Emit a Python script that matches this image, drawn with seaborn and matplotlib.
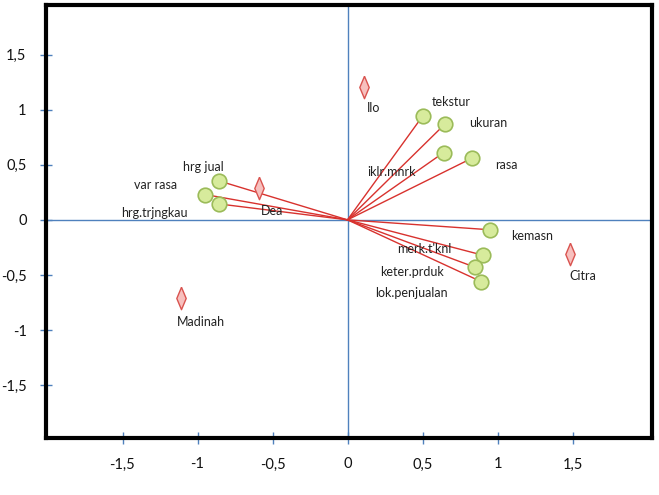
import numpy as np
import pandas as pd
import matplotlib
matplotlib.use('Agg')
import matplotlib.pyplot as plt
import seaborn as sns
from matplotlib.ticker import FuncFormatter

# attribute vectors (green circles)
attr_names = ['hrg jual', 'var rasa', 'hrg.trjngkau', 'tekstur', 'ukuran', 'iklr.mnrk',
              'rasa', 'kemasn', "merk.t'knl", 'keter.prduk', 'lok.penjualan']
attr_x = [-0.86, -0.95, -0.86, 0.50, 0.65, 0.64, 0.83, 0.95, 0.90, 0.85, 0.89]
attr_y = [0.355, 0.23, 0.145, 0.94, 0.87, 0.61, 0.56, -0.09, -0.32, -0.43, -0.56]

# objects (red diamonds)
obj_names = ['Ilo', 'Dea', 'Madinah', 'Citra']
obj_x = [0.11, -0.59, -1.11, 1.48]
obj_y = [1.21, 0.29, -0.71, -0.31]

ticks = [-1.5, -1, -0.5, 0, 0.5, 1, 1.5]

# label offsets in pixels (text left edge, vertical centre)
attr_off = [(-36, 14), (-71, 10), (-97, -9), (9, 14), (24, 1), (-76, -19),
            (23, -7), (21, -6), (-85, 6), (-95, -5), (-106, -11)]
obj_off = [(3, -21), (2, -23), (-4, -24), (0, -22)]

sns.set_style('white')
plt.rcParams['font.family'] = ['Lato', 'DejaVu Sans']

fig = plt.figure(figsize=(6.59, 4.95), dpi=100)
ax = fig.add_axes([46 / 659, 1 - 438 / 495, (652 - 46) / 659, (438 - 5) / 495])

ax.axhline(0, color='#4f81bd', lw=1, zorder=1)
ax.axvline(0, color='#4f81bd', lw=1, zorder=1)

for x, y in zip(attr_x, attr_y):
    ax.plot([0, x], [0, y], color='#d8322e', lw=1, zorder=2)

attrs = pd.DataFrame({'x': attr_x, 'y': attr_y, 'name': attr_names})
objs = pd.DataFrame({'x': obj_x, 'y': obj_y, 'name': obj_names})

sns.scatterplot(data=attrs, x='x', y='y', ax=ax, s=110, color='#d7eb9c',
                edgecolor='#9bbb59', linewidth=1.2, zorder=3)
diamond = [(0, 1), (0.42, 0), (0, -1), (-0.42, 0), (0, 1)]
sns.scatterplot(data=objs, x='x', y='y', ax=ax, s=260, marker=diamond,
                color='#f7c0be', edgecolor='#d9534f', linewidth=1, zorder=3)

for name, x, y, (dx, dy) in zip(attr_names, attr_x, attr_y, attr_off):
    ax.annotate(name, (x, y), xytext=(dx, dy), textcoords='offset pixels',
                ha='left', va='center', fontsize=9, color='#222222')
for name, x, y, (dx, dy) in zip(obj_names, obj_x, obj_y, obj_off):
    ax.annotate(name, (x, y), xytext=(dx, dy), textcoords='offset pixels',
                ha='left', va='center', fontsize=9, color='#222222')

ax.set_xlim(-2.01, 2.03)
ax.set_ylim(-1.98, 1.95)
ax.set_xticks(ticks)
ax.set_yticks(ticks)
fmt = FuncFormatter(lambda v, p: ('%g' % v).replace('.', ','))
ax.xaxis.set_major_formatter(fmt)
ax.yaxis.set_major_formatter(fmt)
ax.tick_params(axis='both', direction='inout', length=8, width=1, color='#4f81bd',
               labelsize=10.5, labelcolor='#111111', left=True, bottom=True)
ax.tick_params(axis='y', pad=10)
ax.tick_params(axis='x', pad=10)
ax.set_xlabel('')
ax.set_ylabel('')
for sp in ax.spines.values():
    sp.set_color('black')
    sp.set_linewidth(3)
    sp.set_visible(True)

fig.savefig('out.png', dpi=100)
